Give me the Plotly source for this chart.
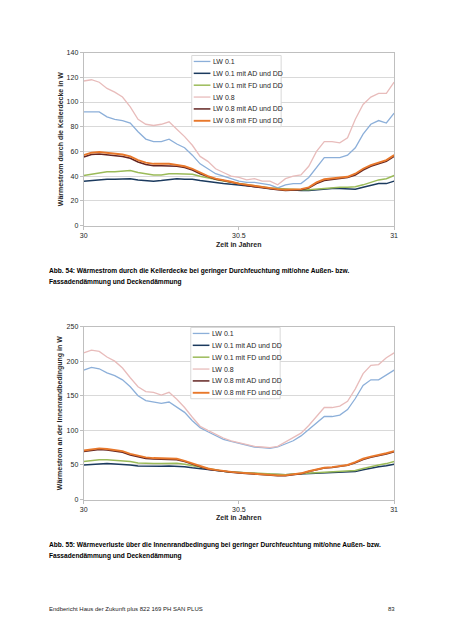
import plotly.graph_objects as go

W, H = 452, 640
OFF = 8  # browser body margin

# ---------------- data ----------------
years = [30.0, 30.025, 30.05, 30.075, 30.1, 30.125, 30.15, 30.175, 30.2, 30.225,
         30.25, 30.275, 30.3, 30.325, 30.35, 30.375, 30.4, 30.425, 30.45, 30.475,
         30.5, 30.525, 30.55, 30.575, 30.6, 30.625, 30.65, 30.675, 30.7, 30.725,
         30.75, 30.775, 30.8, 30.825, 30.85, 30.875, 30.9, 30.925, 30.95, 30.975, 31.0]

series_names = ["LW 0.1", "LW 0.1 mit AD und DD", "LW 0.1 mit FD und DD",
                "LW 0.8", "LW 0.8 mit AD und DD", "LW 0.8 mit FD und DD"]

# Chart 1: Wärmestrom durch die Kellerdecke
c1_lw01 = [92, 92, 92, 88, 86, 85, 83, 76, 70, 68, 68, 70, 66, 63, 57, 50, 46, 42, 40, 38,
           36, 35, 35, 34, 33, 30.5, 33, 34, 34, 39, 47, 55, 55, 55, 57, 63, 74, 82, 85, 83, 91]
c1_lw01_ad = [36, 36.5, 37.5, 37.5, 37.5, 38, 38, 37, 36.5, 36, 36.5, 37.5, 38, 37.5, 37.5, 36.5,
              35.5, 34.5, 34, 33.5, 33, 32, 31.5, 31, 30, 29.5, 29, 28.5, 28.5, 28.5, 29, 30, 30,
              30, 29.5, 29.5, 31, 32.5, 34, 34, 36]
c1_lw01_fd = [40.5, 41.5, 43, 43.5, 43.5, 44, 44.5, 43, 42, 41, 41, 42, 42, 41.5, 41.5, 40,
              38.5, 37, 36, 35, 34, 33, 32, 31.5, 30.5, 30, 29.5, 29, 29, 29, 29.5, 30.5, 31,
              31, 31, 31.5, 33, 35, 37, 38, 40.5]
c1_lw08 = [117, 118, 116, 111, 108, 104, 96, 86, 82, 81, 82, 84, 78, 72, 65, 56, 52, 46, 43, 40,
           39, 37, 38, 36, 36, 33, 38, 40, 41, 48, 60, 68, 68, 67, 71, 86, 98, 104, 107, 107, 116]
c1_lw08_ad = [55.5, 57.5, 58, 57.5, 57, 56, 54.5, 51.5, 49.5, 48.5, 48.5, 48.5, 48, 47, 45, 42,
              39.5, 37.5, 36.5, 35, 33.5, 32.5, 31.5, 30.5, 30, 29, 28.5, 28.5, 29, 30.5, 34,
              36.5, 37.5, 38, 39, 41, 45, 48, 50, 52, 56]
c1_lw08_fd = [57, 59, 59.5, 59, 58.5, 57.5, 56, 53, 51, 50, 50, 50, 49, 48, 46, 43, 40, 38, 37,
              35.5, 34, 33, 32, 31, 30.5, 29.5, 29, 29, 29.5, 31, 35, 37.5, 38, 38.5, 39.5, 42,
              46, 49, 51, 53, 57]

# Chart 2: Wärmestrom an der Innenrandbedingung
c2_lw01 = [187, 191, 189, 183, 179, 173, 163, 150, 143, 141, 139, 141, 134, 126, 114, 104, 98,
           92, 87, 84, 81, 78, 76, 75, 74, 76, 80, 85, 92, 101, 110, 120, 120, 122, 130, 146,
           165, 173, 173, 180, 187]
c2_lw01_ad = [50, 51, 52, 52, 51.5, 51, 50, 48.5, 48, 48, 48, 48.5, 48.5, 47.5, 46, 44.5, 43,
              42, 41, 40, 39, 38.5, 37.5, 37, 36.5, 36, 36, 36.5, 37, 37.5, 38, 39, 39.5, 39.5,
              39.5, 40.5, 43, 45.5, 47.5, 49, 51]
c2_lw01_fd = [55, 56.5, 57.5, 57.5, 57, 56.5, 55, 53, 52, 52, 52, 52.5, 52.5, 51, 49, 46, 44,
              42, 41, 40, 39.5, 39, 38, 37.5, 37, 36.5, 36, 37, 37.5, 38, 38.5, 39.5, 40, 40,
              40.5, 42, 45, 48, 50, 52, 55]
c2_lw08 = [212, 216, 214, 206, 200, 190, 176, 163, 156, 155, 151, 155, 145, 133, 119, 106, 100,
           94, 89, 85, 82, 79, 77, 76, 75, 77, 83, 89, 96, 107, 120, 133, 133, 135, 142, 160,
           182, 194, 195, 205, 212]
c2_lw08_ad = [69.5, 71.5, 72.5, 71.5, 70.5, 68.5, 64.5, 61.5, 59.5, 58.5, 58.5, 58.5, 57.5, 55,
              51, 47, 44, 42.5, 40.5, 39.5, 38.5, 37.5, 36.5, 35.5, 35, 34.5, 34.5, 35.5, 37.5,
              40.5, 43.5, 45.5, 46.5, 47.5, 49.5, 53, 58, 61, 63, 66, 69]
c2_lw08_fd = [71, 73, 74, 73, 72, 70, 66, 63, 61, 60, 60, 60, 59, 56, 52, 48, 45, 43, 41, 40,
              39, 38, 37, 36, 35, 35, 35, 36, 38, 41, 44, 46, 47, 48, 50, 54, 59, 62, 64, 67, 70]

x_tickvals = [30, 30.5, 31]
x_ticktext = ["30", "30.5", "31"]
y1_tickvals = [0, 20, 40, 60, 80, 100, 120, 140]
y2_tickvals = [0, 50, 100, 150, 200, 250]

chart1 = [c1_lw01, c1_lw01_ad, c1_lw01_fd, c1_lw08, c1_lw08_ad, c1_lw08_fd]
chart2 = [c2_lw01, c2_lw01_ad, c2_lw01_fd, c2_lw08, c2_lw08_ad, c2_lw08_fd]

colors = ["#8CAFD9", "#1B3A5E", "#9BBB59", "#E8BCBB", "#632523", "#E8782B"]
widths = [1.3, 1.5, 1.5, 1.3, 1.5, 1.9]

FONT = "Liberation Sans, Arial, sans-serif"
TXT = "#262626"


def px(x):
    return (x - OFF) / W


def py(y):
    return 1 - (y - OFF) / H


fig = go.Figure()

for vals, nm, col, lw in zip(chart1, series_names, colors, widths):
    fig.add_trace(go.Scatter(x=years, y=vals, name=nm, mode="lines",
                             line=dict(color=col, width=lw), showlegend=False,
                             xaxis="x", yaxis="y"))
for vals, nm, col, lw in zip(chart2, series_names, colors, widths):
    fig.add_trace(go.Scatter(x=years, y=vals, name=nm, mode="lines",
                             line=dict(color=col, width=lw), showlegend=False,
                             xaxis="x2", yaxis="y2"))

plot_x0, plot_x1 = 81, 397
c1_top, c1_bot = 49, 224
c2_top, c2_bot = 326, 501

axis_common = dict(showline=True, linecolor="#BFBFBF", linewidth=1, mirror=True,
                   ticks="outside", ticklen=3, tickcolor="#BFBFBF",
                   tickfont=dict(family=FONT, size=7, color=TXT), zeroline=False)

fig.update_layout(
    width=W, height=H, margin=dict(l=0, r=0, t=0, b=0),
    paper_bgcolor="white", plot_bgcolor="white",
    font=dict(family=FONT, size=7, color=TXT),
    xaxis=dict(domain=[px(plot_x0), px(plot_x1)], range=[30, 31], tickvals=x_tickvals,
               ticktext=x_ticktext, showgrid=False, anchor="y", **axis_common),
    yaxis=dict(domain=[py(c1_bot), py(c1_top)], range=[0, 140], tickvals=y1_tickvals,
               showgrid=True, gridcolor="#D9D9D9", gridwidth=1, anchor="x", **axis_common),
    xaxis2=dict(domain=[px(plot_x0), px(plot_x1)], range=[30, 31], tickvals=x_tickvals,
                ticktext=x_ticktext, showgrid=False, anchor="y2", **axis_common),
    yaxis2=dict(domain=[py(c2_bot), py(c2_top)], range=[0, 250], tickvals=y2_tickvals,
                showgrid=True, gridcolor="#D9D9D9", gridwidth=1, anchor="x2", **axis_common),
)

shapes = []
annotations = []

# manual compact legends
for (bx0, by0, bx1, by1) in [(191, 52, 282, 124), (190, 327, 281, 399)]:
    shapes.append(dict(type="rect", xref="paper", yref="paper",
                       x0=px(bx0), x1=px(bx1), y0=py(by1), y1=py(by0),
                       line=dict(color="#D9D9D9", width=1), fillcolor="white", layer="above"))
    step = (by1 - by0) / 6.0
    for i, (nm, col, lw) in enumerate(zip(series_names, colors, widths)):
        yc = by0 + step * (i + 0.5)
        shapes.append(dict(type="line", xref="paper", yref="paper",
                           x0=px(bx0 + 2), x1=px(bx0 + 19), y0=py(yc), y1=py(yc),
                           line=dict(color=col, width=lw), layer="above"))
        annotations.append(dict(xref="paper", yref="paper", x=px(bx0 + 20), y=py(yc),
                                xanchor="left", yanchor="middle", showarrow=False,
                                text=nm, font=dict(family=FONT, size=7, color=TXT)))

# axis titles
annotations += [
    dict(xref="paper", yref="paper", x=px(57), y=py((c1_top + c1_bot) / 2), textangle=-90,
         text="<b>Wärmestrom durch die Kellerdecke in W</b>", showarrow=False,
         xanchor="center", yanchor="middle", font=dict(family=FONT, size=7, color=TXT)),
    dict(xref="paper", yref="paper", x=px(57), y=py((c2_top + c2_bot) / 2), textangle=-90,
         text="<b>Wärmestrom an der Innenrandbedingung in W</b>", showarrow=False,
         xanchor="center", yanchor="middle", font=dict(family=FONT, size=7, color=TXT)),
    dict(xref="paper", yref="paper", x=px(239), y=py(243), text="<b>Zeit in Jahren</b>",
         showarrow=False, xanchor="center", yanchor="middle",
         font=dict(family=FONT, size=7, color=TXT)),
    dict(xref="paper", yref="paper", x=px(239), y=py(519), text="<b>Zeit in Jahren</b>",
         showarrow=False, xanchor="center", yanchor="middle",
         font=dict(family=FONT, size=7, color=TXT)),
]

# captions and footer
cap_font = dict(family=FONT, size=6.6, color="#000000")
annotations += [
    dict(xref="paper", yref="paper", x=px(44), y=py(270), xanchor="left", yanchor="middle",
         showarrow=False, font=cap_font,
         text="<b>Abb. 54: Wärmestrom durch die Kellerdecke bei geringer Durchfeuchtung mit/ohne Außen- bzw.</b>"),
    dict(xref="paper", yref="paper", x=px(44), y=py(281), xanchor="left", yanchor="middle",
         showarrow=False, font=cap_font, text="<b>Fassadendämmung und Deckendämmung</b>"),
    dict(xref="paper", yref="paper", x=px(44), y=py(547), xanchor="left", yanchor="middle",
         showarrow=False, font=cap_font,
         text="<b>Abb. 55: Wärmeverluste über die Innenrandbedingung bei geringer Durchfeuchtung mit/ohne Außen- bzw.</b>"),
    dict(xref="paper", yref="paper", x=px(44), y=py(558), xanchor="left", yanchor="middle",
         showarrow=False, font=cap_font, text="<b>Fassadendämmung und Deckendämmung</b>"),
    dict(xref="paper", yref="paper", x=px(44), y=py(612), xanchor="left", yanchor="middle",
         showarrow=False, font=dict(family=FONT, size=6, color="#222222"),
         text="Endbericht Haus der Zukunft plus 822 169 PH SAN PLUS"),
    dict(xref="paper", yref="paper", x=px(400), y=py(612), xanchor="right", yanchor="middle",
         showarrow=False, font=dict(family=FONT, size=6, color="#222222"), text="83"),
]

fig.update_layout(shapes=shapes, annotations=annotations)
fig.write_html("out.html")
